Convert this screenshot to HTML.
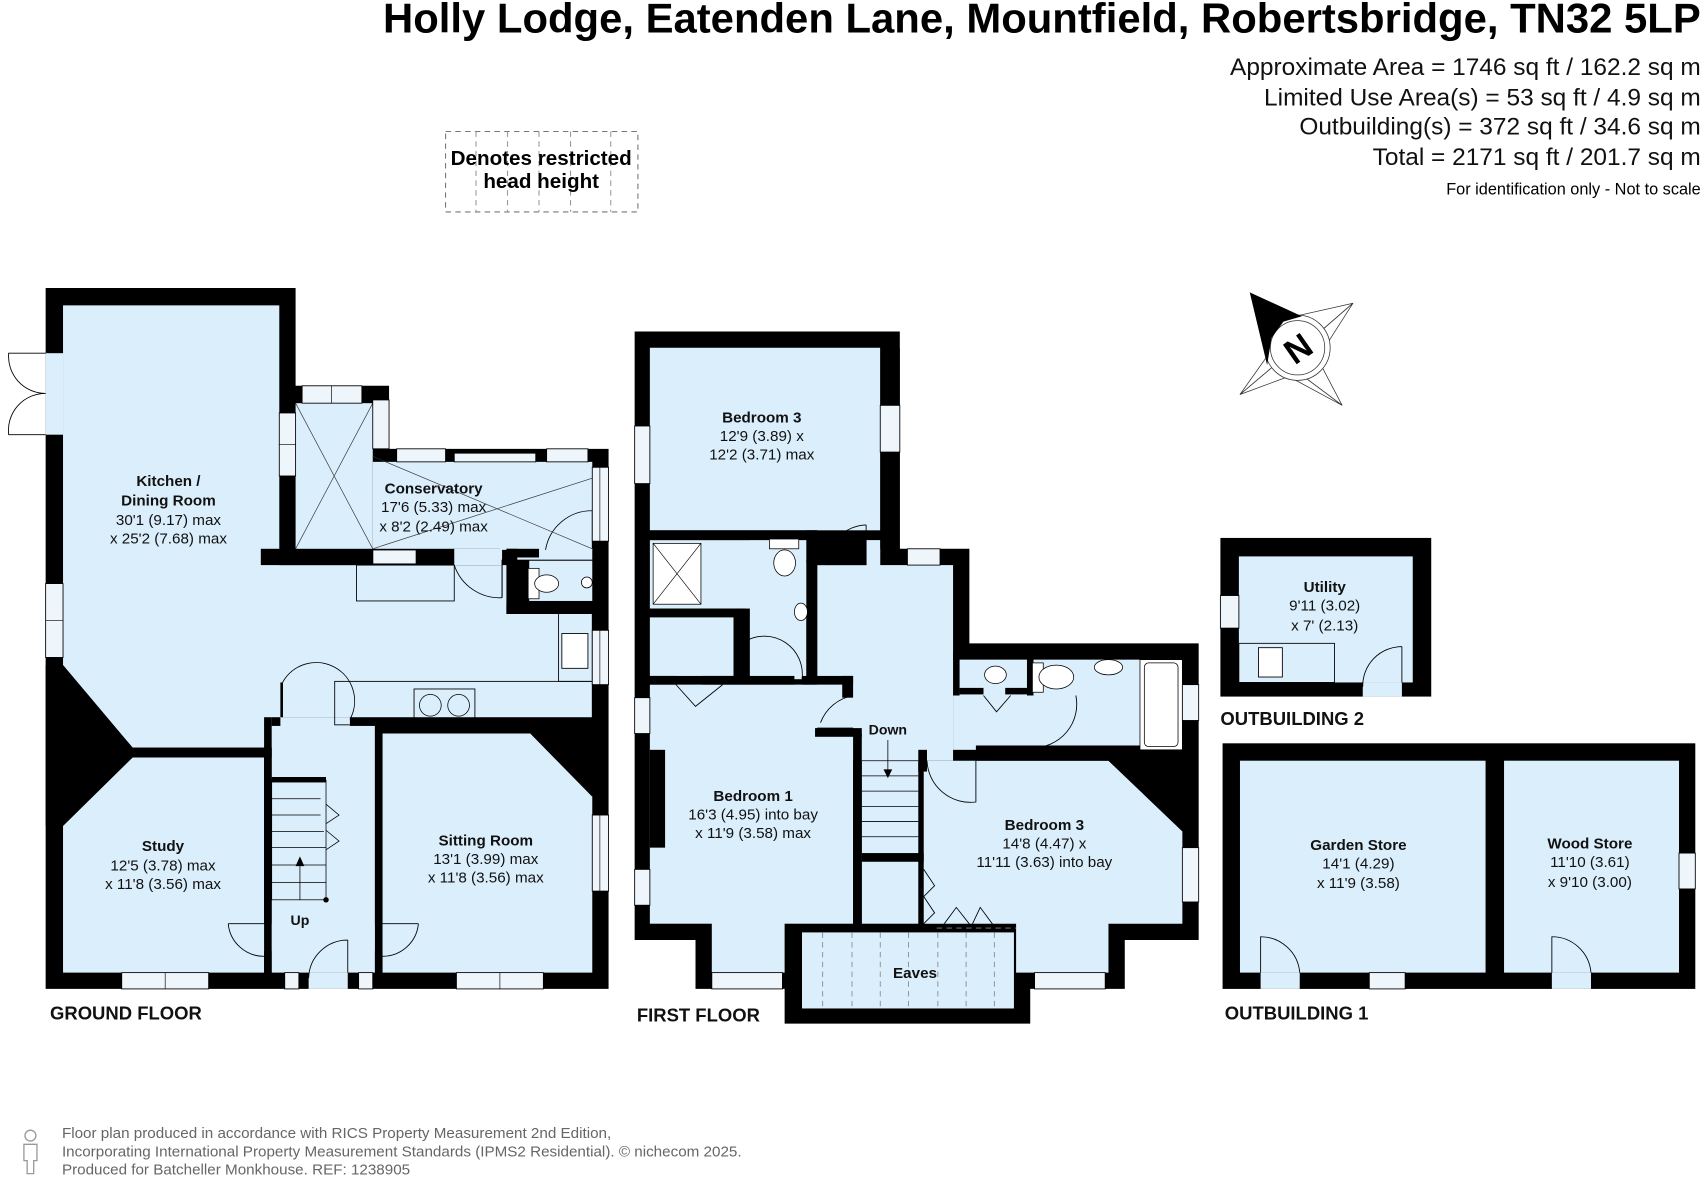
<!DOCTYPE html>
<html><head><meta charset="utf-8"><style>
html,body{margin:0;padding:0;background:#fff;}
svg{display:block;}
text{font-family:"Liberation Sans",Arial,sans-serif;}
</style></head><body>
<svg width="1704" height="1178" viewBox="0 0 1568 1084" preserveAspectRatio="none" xmlns="http://www.w3.org/2000/svg">
<rect width="1568" height="1084" fill="#fff"/>
<!-- Header -->
<text x="1565" y="30" text-anchor="end" font-size="38.5" font-weight="bold">Holly Lodge, Eatenden Lane, Mountfield, Robertsbridge, TN32 5LP</text>
<g font-size="22.5" text-anchor="end" fill="#111">
<text x="1565" y="69">Approximate Area = 1746 sq ft / 162.2 sq m</text>
<text x="1565" y="97">Limited Use Area(s) = 53 sq ft / 4.9 sq m</text>
<text x="1565" y="124">Outbuilding(s) = 372 sq ft / 34.6 sq m</text>
<text x="1565" y="152">Total = 2171 sq ft / 201.7 sq m</text>
</g>
<text x="1565" y="179" text-anchor="end" font-size="15">For identification only - Not to scale</text>
<!-- restricted head height key -->
<rect x="410" y="121" width="177" height="74" fill="none" stroke="#777" stroke-dasharray="5,4"/>
<g stroke="#999" stroke-dasharray="5,4"><line x1="438" y1="121" x2="438" y2="195"/><line x1="467" y1="121" x2="467" y2="195"/><line x1="496" y1="121" x2="496" y2="195"/><line x1="525" y1="121" x2="525" y2="195"/><line x1="562" y1="121" x2="562" y2="195"/></g>
<text x="498" y="152" text-anchor="middle" font-size="19" font-weight="bold">Denotes restricted</text>
<text x="498" y="173" text-anchor="middle" font-size="19" font-weight="bold">head height</text>

<!-- Compass -->
<g stroke="#333" stroke-width="0.7" fill="#fff">
<polygon points="1245,279 1207,312 1183,293"/>
<polygon points="1245,279 1215,326 1207,312"/>
<polygon points="1235,373 1213,331 1199,346"/>
<polygon points="1235,373 1185,346 1199,346"/>
<polygon points="1141,363 1180,330 1187,346"/>
<polygon points="1141,363 1173,318 1180,330"/>
<circle cx="1194" cy="320" r="30"/><circle cx="1194" cy="320" r="25"/>
</g>
<polygon points="1150,269 1198,291 1181,296 1170,311 1166,336" fill="#000"/>
<text x="1194" y="332" text-anchor="middle" font-size="32" font-weight="bold" transform="rotate(-35 1194 320)">N</text>

<!-- ================= GROUND FLOOR ================= -->
<polygon points="42,265 272,265 272,355 358,355 358,413 560,413 560,910 42,910" fill="#000"/>
<g fill="#dbeefb">
<rect x="58" y="281" width="199" height="240"/>
<polygon points="58,520 470,520 470,560 545,560 545,667 322,667 322,660 260,660 260,688 122,688 58,612"/>
<rect x="272" y="371" width="71" height="135"/>
<rect x="343" y="425" width="202" height="81"/>
<rect x="470" y="505" width="75" height="10"/>
<rect x="487" y="516" width="58" height="37"/>
<polygon points="122,697 243,697 243,895 58,895 58,760"/>
<rect x="250" y="660" width="95" height="235"/>
<polygon points="352,675 488,675 545,733 545,895 352,895"/>
</g>
<rect x="240" y="505" width="220" height="15" fill="#000"/>
<rect x="343" y="506" width="40" height="13" fill="#eef6fc" stroke="#000" stroke-width="1"/>
<rect x="418" y="505" width="44" height="15" fill="#dbeefb"/>
<line x1="462" y1="515" x2="462" y2="550" stroke="#000"/>
<path d="M418,520 A44,44 0 0 0 462,550" fill="none" stroke="#000" stroke-width="0.8"/>
<rect x="466" y="505" width="30" height="8" fill="#000"/>
<rect x="466" y="505" width="10" height="60" fill="#000"/>
<rect x="466" y="555" width="80" height="10" fill="#000"/>
<rect x="486" y="523" width="10" height="28" fill="#fff" stroke="#000" stroke-width="0.7"/>
<ellipse cx="503" cy="537" rx="11" ry="8" fill="#fff" stroke="#000" stroke-width="0.7"/>
<circle cx="540" cy="536" r="5" fill="#fff" stroke="#000" stroke-width="0.7"/>
<path d="M545,470 L545,505 M502,506 A43,43 0 0 1 545,470" fill="none" stroke="#000" stroke-width="0.8"/>
<rect x="545" y="448" width="15" height="20" fill="#dbeefb"/>
<g stroke="#333" stroke-width="0.6"><line x1="272" y1="371" x2="343" y2="505"/><line x1="343" y1="371" x2="272" y2="505"/><line x1="343" y1="420" x2="545" y2="505"/><line x1="343" y1="505" x2="545" y2="440"/></g>
<rect x="328" y="520" width="90" height="33" fill="none" stroke="#000" stroke-width="0.8"/>
<rect x="308" y="627" width="237" height="40" fill="none" stroke="#000" stroke-width="0.8"/>
<rect x="514" y="560" width="31" height="67" fill="none" stroke="#000" stroke-width="0.8"/>
<rect x="517" y="583" width="24" height="32" fill="#fff" stroke="#000" stroke-width="0.8"/>
<rect x="381" y="634" width="56" height="30" fill="none" stroke="#000" stroke-width="0.8"/>
<circle cx="396" cy="649" r="10" fill="none" stroke="#000" stroke-width="0.7"/><circle cx="422" cy="649" r="10" fill="none" stroke="#000" stroke-width="0.7"/>
<rect x="122" y="688" width="128" height="9" fill="#000"/>
<polygon points="42,612 58,612 122,688 122,697 58,760 42,760" fill="#000"/>
<rect x="243" y="660" width="7" height="190" fill="#000"/>
<rect x="243" y="875" width="7" height="20" fill="#000"/>
<rect x="250" y="660" width="8" height="8" fill="#000"/>
<rect x="322" y="660" width="223" height="8" fill="#000"/>
<rect x="345" y="668" width="7" height="182" fill="#000"/>
<rect x="345" y="875" width="7" height="20" fill="#000"/>
<polygon points="488,675 545,675 545,733" fill="#000"/>
<path d="M260,628 L260,660 M260,628 A35,35 0 0 1 322,662" fill="none" stroke="#000" stroke-width="0.8"/>
<rect x="258" y="628" width="2" height="32" fill="#000"/>
<g stroke="#000" stroke-width="0.7" fill="none">
<rect x="250" y="718" width="50" height="110"/>
<line x1="250" y1="735" x2="295" y2="735"/><line x1="250" y1="750" x2="295" y2="750"/><line x1="250" y1="765" x2="298" y2="765"/><line x1="250" y1="780" x2="300" y2="780"/><line x1="250" y1="796" x2="300" y2="796"/><line x1="250" y1="812" x2="300" y2="812"/>
<line x1="276" y1="828" x2="276" y2="792"/>
<path d="M300,740 L312,750 L300,758 M300,764 L312,774 L300,782"/>
</g>
<rect x="250" y="715" width="50" height="5" fill="#000"/>
<polygon points="276,788 272,797 280,797" fill="#000"/>
<circle cx="300" cy="828" r="2.5" fill="#000"/>
<path d="M210,850 L243,850 M210,850 A33,33 0 0 0 243,880" fill="none" stroke="#000" stroke-width="0.8"/>
<path d="M385,850 L352,850 M385,850 A33,33 0 0 1 352,880" fill="none" stroke="#000" stroke-width="0.8"/>
<rect x="284" y="895" width="36" height="15" fill="#dbeefb"/>
<path d="M320,865 L320,895 M320,865 A36,36 0 0 0 284,900" fill="none" stroke="#000" stroke-width="0.8"/>
<g fill="#eef6fc" stroke="#000" stroke-width="0.8">
<rect x="257" y="380" width="15" height="58"/>
<rect x="278" y="355" width="55" height="16"/>
<rect x="343" y="368" width="15" height="45"/>
<rect x="365" y="413" width="45" height="12"/>
<rect x="418" y="417" width="75" height="8"/>
<rect x="503" y="413" width="38" height="12"/>
<rect x="545" y="430" width="15" height="68"/>
<rect x="545" y="580" width="15" height="50"/>
<rect x="545" y="750" width="15" height="70"/>
<rect x="42" y="537" width="16" height="68"/>
<rect x="112" y="895" width="80" height="15"/>
<rect x="262" y="895" width="13" height="15"/>
<rect x="330" y="895" width="13" height="15"/>
<rect x="420" y="895" width="80" height="15"/>
</g>
<g stroke="#000" stroke-width="0.6"><line x1="257" y1="409" x2="272" y2="409"/><line x1="305" y1="355" x2="305" y2="371"/><line x1="42" y1="571" x2="58" y2="571"/><line x1="152" y1="895" x2="152" y2="910"/><line x1="460" y1="895" x2="460" y2="910"/><line x1="552" y1="430" x2="552" y2="498"/><line x1="552" y1="580" x2="552" y2="630"/><line x1="552" y1="750" x2="552" y2="820"/></g>
<rect x="42" y="325" width="16" height="75" fill="#dbeefb"/>
<path d="M42,325 L8,325 A34,34 0 0 0 42,362 M42,400 L8,400 A34,34 0 0 1 42,362" fill="none" stroke="#000" stroke-width="0.8"/>

<!-- ================= FIRST FLOOR ================= -->
<polygon points="584,305 828,305 828,505 892,505 892,592 1103,592 1103,865 1035,865 1035,910 948,910 948,942 722,942 722,910 640,910 640,865 584,865" fill="#000"/>
<g fill="#dbeefb">
<rect x="598" y="320" width="212" height="168"/>
<rect x="598" y="497" width="144" height="63"/>
<rect x="690" y="497" width="52" height="128"/>
<rect x="598" y="568" width="77" height="54"/>
<rect x="752" y="520" width="125" height="180"/>
<rect x="797" y="497" width="13" height="25"/>
<rect x="877" y="607" width="211" height="83"/>
<rect x="598" y="630" width="187" height="220"/>
<rect x="655" y="845" width="67" height="50"/>
<rect x="793" y="680" width="52" height="170"/>
<polygon points="850,700 1020,700 1088,765 1088,850 1020,850 1020,895 935,895 935,850 850,850"/>
<rect x="738" y="858" width="195" height="70"/>
</g>
<g fill="#000">
<rect x="598" y="488" width="154" height="9"/>
<rect x="742" y="488" width="10" height="30"/>
<rect x="742" y="515" width="10" height="110"/>
<rect x="745" y="512" width="52" height="8"/>
<rect x="598" y="560" width="88" height="8"/>
<rect x="675" y="560" width="11" height="62"/>
<rect x="598" y="622" width="24" height="8"/>
<rect x="646" y="622" width="85" height="8"/>
<rect x="738" y="622" width="47" height="8"/>
<rect x="775" y="622" width="10" height="20"/>
<rect x="785" y="675" width="8" height="175"/>
<rect x="750" y="670" width="43" height="8"/>
<rect x="845" y="690" width="8" height="20"/>
<rect x="877" y="600" width="6" height="40"/>
<rect x="883" y="633" width="22" height="6"/>
<rect x="925" y="633" width="22" height="6"/>
<rect x="945" y="600" width="6" height="40"/>
<rect x="898" y="686" width="190" height="14"/>
<rect x="793" y="785" width="57" height="8"/>
<rect x="598" y="690" width="14" height="90"/>
<polygon points="1020,700 1088,700 1088,765" fill="#000"/>
</g>
<rect x="810" y="320" width="18" height="185" fill="#000"/>
<g stroke="#000" stroke-width="0.7" fill="#fff">
<rect x="601" y="500" width="44" height="56"/>
<rect x="708" y="496" width="27" height="9"/>
<ellipse cx="722" cy="518" rx="10" ry="12"/>
<ellipse cx="737" cy="563" rx="6" ry="8"/>
<ellipse cx="916" cy="621" rx="10" ry="8"/>
<rect x="950" y="610" width="10" height="27"/>
<ellipse cx="972" cy="623" rx="16" ry="11"/>
<ellipse cx="1020" cy="614" rx="13" ry="7"/>
<rect x="1049" y="607" width="39" height="83"/>
<rect x="1053" y="610" width="31" height="77" rx="4"/>
</g>
<g stroke="#000" stroke-width="0.6"><line x1="601" y1="500" x2="645" y2="556"/><line x1="645" y1="500" x2="601" y2="556"/></g>
<g fill="none" stroke="#000" stroke-width="0.8">
<path d="M797,483 L797,520 M762,520 A36,36 0 0 1 797,483"/>
<path d="M686,590 L686,622 M686,590 A35,35 0 0 1 738,625"/>
<path d="M622,630 L640,650 L665,630"/>
<path d="M755,665 A40,40 0 0 1 785,640 M752,670 L785,670"/>
<path d="M853,700 A40,40 0 0 0 898,738 L898,700"/>
<path d="M905,640 L917,655 L930,640"/>
<path d="M990,640 A40,40 0 0 1 950,688"/>
<path d="M850,800 L860,815 L850,825 L860,840 L850,850"/>
<path d="M866,854 L880,835 L895,854 M893,854 L902,835 L916,854"/>
</g>
<g stroke="#000" stroke-width="0.7">
<line x1="793" y1="700" x2="845" y2="700"/><line x1="793" y1="714" x2="845" y2="714"/><line x1="793" y1="728" x2="845" y2="728"/><line x1="793" y1="742" x2="845" y2="742"/><line x1="793" y1="756" x2="845" y2="756"/><line x1="793" y1="770" x2="845" y2="770"/>
<line x1="817" y1="681" x2="817" y2="712"/>
</g>
<polygon points="817,716 813,708 821,708" fill="#000"/>
<g stroke="#888" stroke-width="0.8" stroke-dasharray="5,4">
<line x1="757" y1="858" x2="757" y2="928"/><line x1="784" y1="858" x2="784" y2="928"/><line x1="810" y1="858" x2="810" y2="928"/><line x1="836" y1="858" x2="836" y2="928"/><line x1="863" y1="858" x2="863" y2="928"/><line x1="889" y1="858" x2="889" y2="928"/><line x1="915" y1="858" x2="915" y2="928"/>
<line x1="862" y1="854" x2="935" y2="854"/>
</g>
<g fill="#eef6fc" stroke="#000" stroke-width="0.8">
<rect x="584" y="392" width="14" height="53"/>
<rect x="810" y="373" width="18" height="43"/>
<rect x="835" y="505" width="30" height="15"/>
<rect x="584" y="642" width="14" height="33"/>
<rect x="584" y="800" width="14" height="33"/>
<rect x="1088" y="630" width="15" height="33"/>
<rect x="1088" y="780" width="15" height="50"/>
<rect x="655" y="895" width="65" height="15"/>
<rect x="952" y="895" width="65" height="15"/>
</g>

<!-- ================= OUTBUILDINGS ================= -->
<rect x="1123" y="495" width="194" height="146" fill="#000"/>
<rect x="1140" y="512" width="160" height="116" fill="#dbeefb"/>
<rect x="1140" y="592" width="88" height="36" fill="none" stroke="#000" stroke-width="0.8"/>
<rect x="1158" y="596" width="22" height="27" fill="#fff" stroke="#000" stroke-width="0.8"/>
<rect x="1254" y="628" width="36" height="13" fill="#dbeefb"/>
<path d="M1290,595 L1290,628 M1254,632 A36,36 0 0 1 1290,595" fill="none" stroke="#000" stroke-width="0.8"/>
<rect x="1123" y="548" width="17" height="30" fill="#eef6fc" stroke="#000" stroke-width="0.8"/>

<rect x="1125" y="684" width="435" height="226" fill="#000"/>
<rect x="1141" y="700" width="226" height="195" fill="#dbeefb"/>
<rect x="1384" y="700" width="161" height="195" fill="#dbeefb"/>
<rect x="1160" y="895" width="36" height="15" fill="#dbeefb"/>
<path d="M1160,895 L1160,862 A36,36 0 0 1 1196,895" fill="none" stroke="#000" stroke-width="0.8"/>
<rect x="1428" y="895" width="36" height="15" fill="#dbeefb"/>
<path d="M1428,895 L1428,862 A36,36 0 0 1 1464,895" fill="none" stroke="#000" stroke-width="0.8"/>
<rect x="1260" y="895" width="33" height="15" fill="#eef6fc" stroke="#000" stroke-width="0.8"/>
<rect x="1545" y="785" width="15" height="33" fill="#eef6fc" stroke="#000" stroke-width="0.8"/>

<!-- ================= LABELS ================= -->
<g font-size="14" text-anchor="middle" fill="#111">
<text x="155" y="447" font-weight="bold">Kitchen /</text>
<text x="155" y="465" font-weight="bold">Dining Room</text>
<text x="155" y="483">30'1 (9.17) max</text>
<text x="155" y="500">x 25'2 (7.68) max</text>
<text x="399" y="454" font-weight="bold">Conservatory</text>
<text x="399" y="471">17'6 (5.33) max</text>
<text x="399" y="489">x 8'2 (2.49) max</text>
<text x="150" y="783" font-weight="bold">Study</text>
<text x="150" y="801">12'5 (3.78) max</text>
<text x="150" y="818">x 11'8 (3.56) max</text>
<text x="447" y="778" font-weight="bold">Sitting Room</text>
<text x="447" y="795">13'1 (3.99) max</text>
<text x="447" y="812">x 11'8 (3.56) max</text>
<text x="276" y="851" font-weight="bold" font-size="13">Up</text>
<text x="701" y="389" font-weight="bold">Bedroom 3</text>
<text x="701" y="406">12'9 (3.89) x</text>
<text x="701" y="423">12'2 (3.71) max</text>
<text x="693" y="737" font-weight="bold">Bedroom 1</text>
<text x="693" y="754">16'3 (4.95) into bay</text>
<text x="693" y="771">x 11'9 (3.58) max</text>
<text x="817" y="676" font-weight="bold" font-size="13">Down</text>
<text x="961" y="764" font-weight="bold">Bedroom 3</text>
<text x="961" y="781">14'8 (4.47) x</text>
<text x="961" y="798">11'11 (3.63) into bay</text>
<text x="842" y="900" font-weight="bold">Eaves</text>
<text x="1219" y="545" font-weight="bold">Utility</text>
<text x="1219" y="562">9'11 (3.02)</text>
<text x="1219" y="580">x 7' (2.13)</text>
<text x="1250" y="782" font-weight="bold">Garden Store</text>
<text x="1250" y="799">14'1 (4.29)</text>
<text x="1250" y="817">x 11'9 (3.58)</text>
<text x="1463" y="781" font-weight="bold">Wood Store</text>
<text x="1463" y="798">11'10 (3.61)</text>
<text x="1463" y="816">x 9'10 (3.00)</text>
</g>
<g font-size="17" font-weight="bold" fill="#111">
<text x="46" y="938">GROUND FLOOR</text>
<text x="586" y="940">FIRST FLOOR</text>
<text x="1123" y="667">OUTBUILDING 2</text>
<text x="1127" y="938">OUTBUILDING 1</text>
</g>

<!-- footer -->
<g stroke="#999" fill="none" stroke-width="1.2">
<circle cx="28" cy="1045" r="5"/>
<path d="M22,1053 L34,1053 L34,1068 L31,1068 L31,1080 L25,1080 L25,1068 L22,1068 Z"/>
</g>
<g font-size="14" fill="#666">
<text x="57" y="1047">Floor plan produced in accordance with RICS Property Measurement 2nd Edition,</text>
<text x="57" y="1064">Incorporating International Property Measurement Standards (IPMS2 Residential).  © nichecom 2025.</text>
<text x="57" y="1081">Produced for Batcheller Monkhouse.   REF:  1238905</text>
</g>
</svg>
</body></html>
